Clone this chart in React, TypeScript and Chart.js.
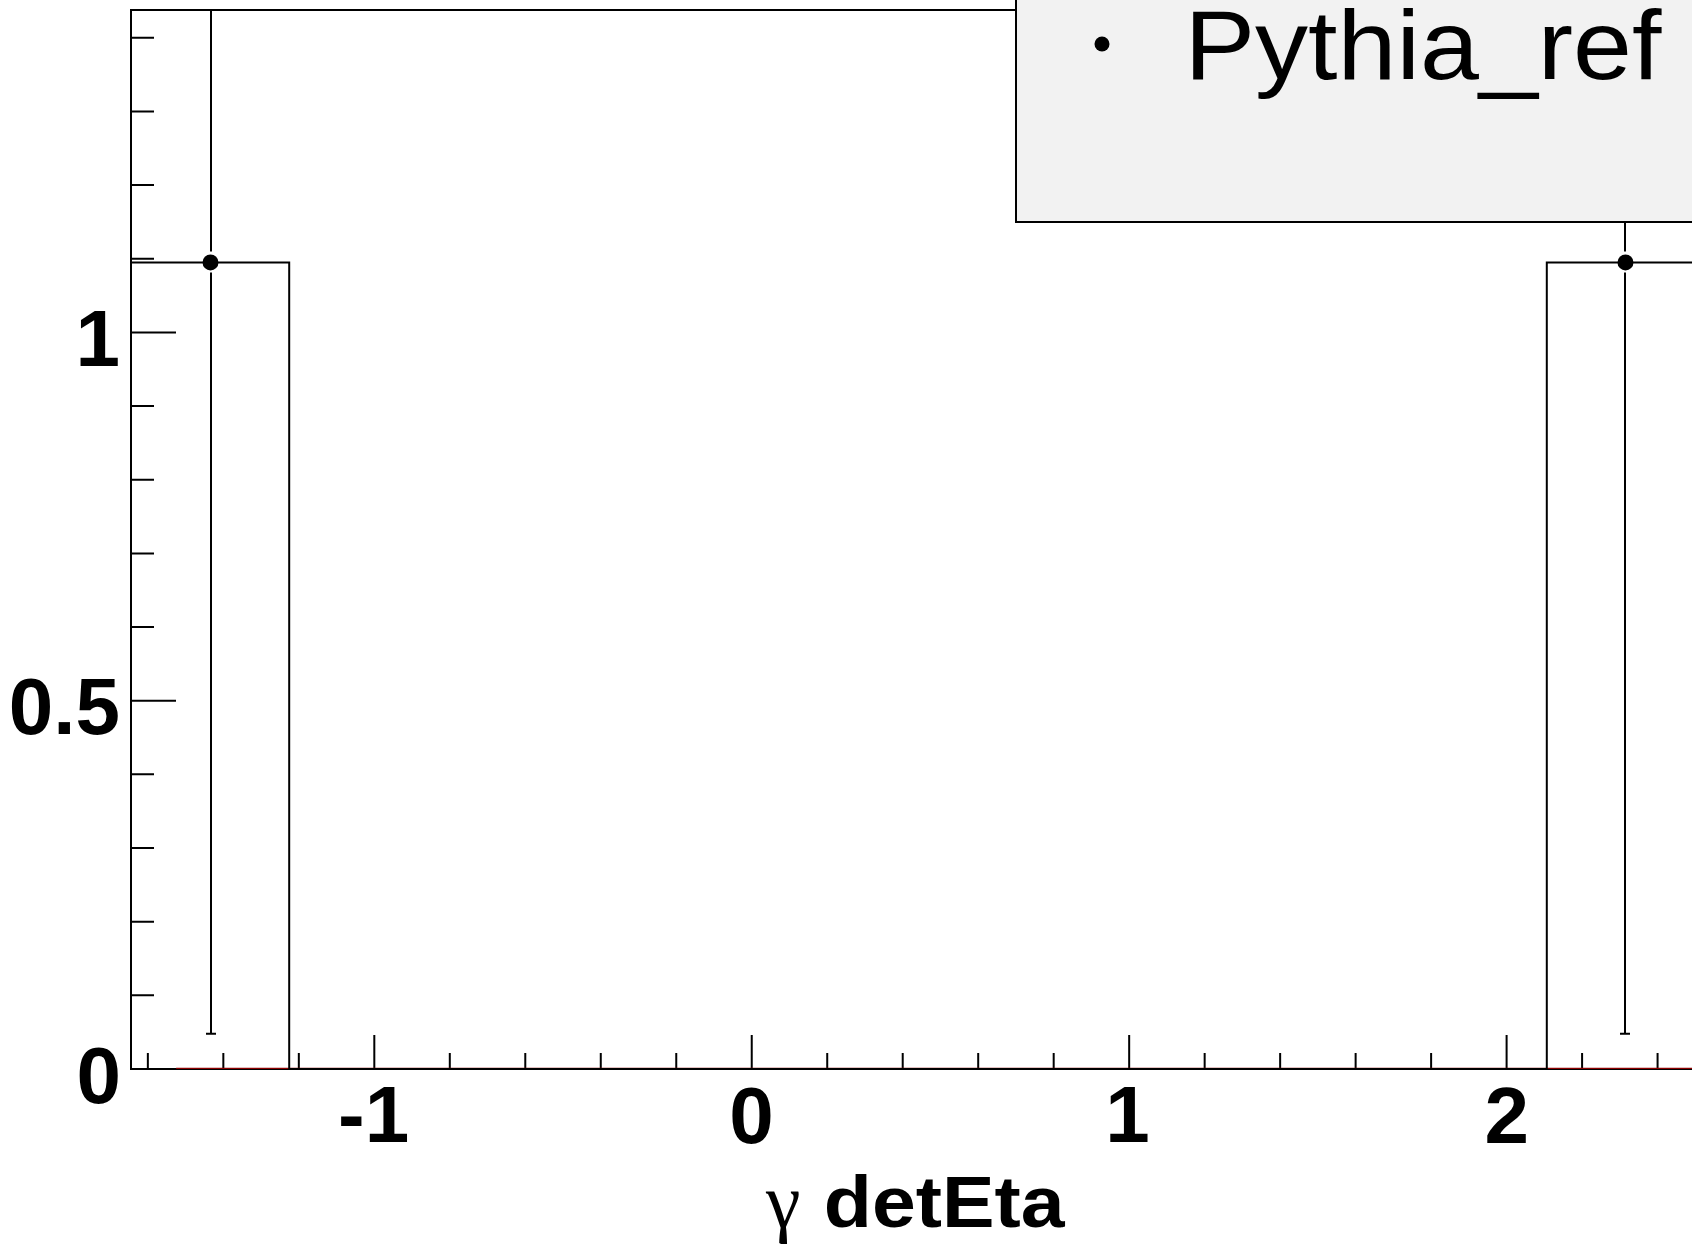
import React, { useEffect, useRef } from 'react';
import { Chart, registerables } from 'chart.js';

Chart.register(...registerables);

// ---- data ----
const BIN_EDGES = [-1.642, -1.2255, -0.809, -0.3925, 0.024, 0.4405, 0.857, 1.2735, 1.69, 2.1065, 2.523];
const BIN_VALUES = [1.095, 0, 0, 0, 0, 0, 0, 0, 0, 1.095];
const POINT_X = [-1.434, 2.315];
const POINT_Y = [1.095, 1.095];
const POINT_ERR = [1.047, 1.047];
const SECOND_X = [-1.525, 2.523];
const SECOND_Y = [0, 0];
const X_MAJOR = [-1, 0, 1, 2];
const X_LABELS = ['-1', '0', '1', '2'];
const X_MINOR = [-1.6, -1.4, -1.2, -0.8, -0.6, -0.4, -0.2, 0.2, 0.4, 0.6, 0.8, 1.2, 1.4, 1.6, 1.8, 2.2, 2.4];
const Y_MAJOR = [0, 0.5, 1];
const Y_LABELS = ['0', '0.5', '1'];
const Y_MINOR = [0.1, 0.2, 0.3, 0.4, 0.6, 0.7, 0.8, 0.9, 1.1, 1.2, 1.3, 1.4];
const Y_MIN = 0;
const Y_MAX = 1.4377;
const SERIES_LABEL = 'Pythia_ref';
const X_TITLE_SYMBOL = 'γ';
const X_TITLE_TEXT = 'detEta';

const CANVAS_W = 1760;
const CANVAS_H = 1249;
const SANS = '"Liberation Sans", Arial, Helvetica, sans-serif';
const SERIF = '"Liberation Serif", "Times New Roman", serif';

function drawFitted(ctx: CanvasRenderingContext2D, text: string, inkLeft: number, inkRight: number, baseline: number) {
  ctx.save();
  ctx.textAlign = 'left';
  ctx.textBaseline = 'alphabetic';
  const m = ctx.measureText(text);
  const inkW = m.actualBoundingBoxLeft + m.actualBoundingBoxRight;
  const sx = (inkRight - inkLeft) / inkW;
  ctx.translate(inkLeft, baseline);
  ctx.scale(sx, 1);
  ctx.fillText(text, m.actualBoundingBoxLeft, 0);
  ctx.restore();
}

const rootStyle = {
  id: 'rootStyle',
  beforeDatasetsDraw(chart: any) {
    const { ctx, chartArea: ca, scales } = chart;
    const xs = scales.x;
    const ys = scales.y;
    ctx.save();
    ctx.strokeStyle = '#000';
    ctx.lineCap = 'butt';
    // frame
    ctx.lineWidth = 2;
    ctx.beginPath();
    ctx.moveTo(ca.left - 1, ca.bottom);
    ctx.lineTo(ca.left - 1, ca.top);
    ctx.moveTo(ca.left - 2, ca.top);
    ctx.lineTo(CANVAS_W, ca.top);
    ctx.moveTo(ca.left - 2, ca.bottom);
    ctx.lineTo(ca.right, ca.bottom);
    ctx.stroke();
    // ticks
    ctx.beginPath();
    Y_MAJOR.forEach((v) => {
      const p = ys.getPixelForValue(v);
      ctx.moveTo(ca.left, p);
      ctx.lineTo(ca.left + 44, p);
    });
    Y_MINOR.forEach((v) => {
      const p = ys.getPixelForValue(v);
      ctx.moveTo(ca.left, p);
      ctx.lineTo(ca.left + 22, p);
    });
    X_MAJOR.forEach((v) => {
      const p = xs.getPixelForValue(v);
      ctx.moveTo(p, ca.bottom);
      ctx.lineTo(p, ca.bottom - 34);
    });
    X_MINOR.forEach((v) => {
      const p = xs.getPixelForValue(v);
      ctx.moveTo(p, ca.bottom);
      ctx.lineTo(p, ca.bottom - 16);
    });
    ctx.stroke();
    // error bars
    ctx.beginPath();
    ctx.rect(ca.left, ca.top, ca.right - ca.left, ca.bottom - ca.top);
    ctx.clip();
    ctx.lineWidth = 2;
    ctx.beginPath();
    POINT_X.forEach((xv, i) => {
      const px = Math.round(xs.getPixelForValue(xv));
      const py = ys.getPixelForValue(POINT_Y[i]);
      const lo = ys.getPixelForValue(POINT_Y[i] - POINT_ERR[i]);
      const hi = ys.getPixelForValue(POINT_Y[i] + POINT_ERR[i]);
      ctx.moveTo(px, py - 11);
      ctx.lineTo(px, hi);
      ctx.moveTo(px, py + 10);
      ctx.lineTo(px, lo);
      ctx.moveTo(px - 5, lo);
      ctx.lineTo(px + 5, lo);
      ctx.moveTo(px - 5, hi);
      ctx.lineTo(px + 5, hi);
    });
    ctx.stroke();
    ctx.restore();
  },
  afterDraw(chart: any) {
    const { ctx, chartArea: ca, scales } = chart;
    const xs = scales.x;
    const ys = scales.y;
    ctx.save();
    ctx.fillStyle = '#000';
    ctx.textAlign = 'left';
    ctx.textBaseline = 'alphabetic';
    ctx.font = `bold 80px ${SANS}`;
    // y tick labels (ink right-aligned like ROOT)
    Y_MAJOR.forEach((v, i) => {
      const t = Y_LABELS[i];
      const m = ctx.measureText(t);
      const p = ys.getPixelForValue(v) + 6;
      const base = p + (m.actualBoundingBoxAscent - m.actualBoundingBoxDescent) / 2;
      const inkRight = ca.left - 13.5;
      ctx.fillText(t, inkRight - m.actualBoundingBoxRight, base);
    });
    // x tick labels (ink centred)
    X_MAJOR.forEach((v, i) => {
      const t = X_LABELS[i];
      const m = ctx.measureText(t);
      const p = xs.getPixelForValue(v);
      const base = ca.bottom + 18 + m.actualBoundingBoxAscent;
      ctx.fillText(t, p - (m.actualBoundingBoxRight - m.actualBoundingBoxLeft) / 2, base);
    });
    // x title
    ctx.font = `78px ${SERIF}`;
    const mg = ctx.measureText(X_TITLE_SYMBOL);
    ctx.fillText(X_TITLE_SYMBOL, 765 + mg.actualBoundingBoxLeft, 1227);
    ctx.font = `bold 73px ${SANS}`;
    drawFitted(ctx, X_TITLE_TEXT, 827, 1066, 1227);
    // legend
    ctx.fillStyle = '#f2f2f2';
    ctx.fillRect(1016, -20, CANVAS_W, 242);
    ctx.strokeStyle = '#000';
    ctx.lineWidth = 2;
    ctx.strokeRect(1016, -20, CANVAS_W, 242);
    ctx.fillStyle = '#000';
    ctx.beginPath();
    ctx.arc(1102, 44, 7.5, 0, Math.PI * 2);
    ctx.fill();
    ctx.font = `99px ${SANS}`;
    drawFitted(ctx, SERIES_LABEL, 1193, 1662, 79);
    ctx.restore();
  },
};

export default function App() {
  const ref = useRef<HTMLCanvasElement | null>(null);
  useEffect(() => {
    if (!ref.current) return;
    const histData = BIN_VALUES.map((v, i) => ({ x: BIN_EDGES[i], y: v }));
    histData.push({ x: BIN_EDGES[BIN_EDGES.length - 1], y: BIN_VALUES[BIN_VALUES.length - 1] });
    const chart = new Chart(ref.current, {
      type: 'scatter',
      data: {
        datasets: [
          {
            type: 'scatter',
            label: SERIES_LABEL,
            data: POINT_X.map((x, i) => ({ x, y: POINT_Y[i] })),
            pointRadius: 8,
            pointBackgroundColor: '#000',
            pointBorderWidth: 0,
            showLine: false,
            order: 0,
          } as any,
          {
            type: 'line',
            label: 'hist',
            data: histData,
            stepped: 'before',
            borderColor: '#000',
            borderWidth: 2,
            pointRadius: 0,
            fill: false,
            order: 1,
          } as any,
          {
            type: 'line',
            label: 'second',
            data: SECOND_X.map((x, i) => ({ x, y: SECOND_Y[i] })),
            borderColor: '#8b0000',
            borderWidth: 2.5,
            pointRadius: 0,
            fill: false,
            order: 2,
          } as any,
        ],
      },
      options: {
        animation: false,
        responsive: false,
        maintainAspectRatio: false,
        devicePixelRatio: 1,
        events: [],
        layout: { padding: { left: 0, top: 10, right: CANVAS_W - 1704, bottom: 0 } },
        plugins: { legend: { display: false }, tooltip: { enabled: false }, title: { display: false } },
        scales: {
          x: {
            type: 'linear',
            min: BIN_EDGES[0],
            max: BIN_EDGES[BIN_EDGES.length - 1],
            grid: { display: false },
            border: { display: false },
            ticks: { display: false },
            afterFit: (s: any) => { s.height = 180; },
          },
          y: {
            type: 'linear',
            min: Y_MIN,
            max: Y_MAX,
            grid: { display: false },
            border: { display: false },
            ticks: { display: false },
            afterFit: (s: any) => { s.width = 132; },
          },
        },
      },
      plugins: [rootStyle],
    });
    return () => chart.destroy();
  }, []);
  return (
    <div style={{ position: 'fixed', left: 0, top: 0, width: 1692, height: 1249, overflow: 'hidden', background: '#fff' }}>
      <canvas ref={ref} width={CANVAS_W} height={CANVAS_H} style={{ display: 'block', width: CANVAS_W, height: CANVAS_H }} />
    </div>
  );
}
